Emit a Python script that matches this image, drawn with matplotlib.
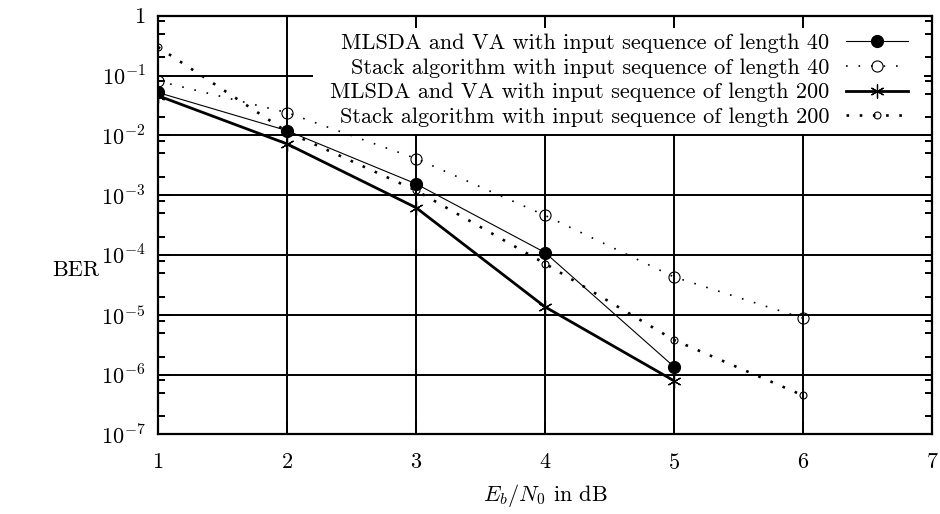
import numpy as np
import matplotlib
matplotlib.use("Agg")
import matplotlib.pyplot as plt
from matplotlib.ticker import FixedLocator, FuncFormatter, LogLocator, NullFormatter
from matplotlib.patches import Rectangle

# data
snr = [1, 2, 3, 4, 5, 6]
mlsda_40 = [5.2e-2, 1.2e-2, 1.55e-3, 1.1e-4, 1.36e-6]
stack_40 = [8.1e-2, 2.4e-2, 4.1e-3, 4.6e-4, 4.3e-5, 8.8e-6]
mlsda_200 = [4.6e-2, 7.2e-3, 6.2e-4, 1.36e-5, 7.9e-7]
stack_200 = [0.30, 1.15e-2, 1.2e-3, 7.2e-5, 3.8e-6, 4.5e-7]

labels = ["MLSDA and VA with input sequence of length 40",
          "Stack algorithm with input sequence of length 40",
          "MLSDA and VA with input sequence of length 200",
          "Stack algorithm with input sequence of length 200"]
xticks = [1, 2, 3, 4, 5, 6, 7]
yticks = [1e0, 1e-1, 1e-2, 1e-3, 1e-4, 1e-5, 1e-6, 1e-7]

plt.rcParams.update({
    'font.family': 'serif',
    'font.serif': ['cmr10', 'DejaVu Serif'],
    'mathtext.fontset': 'cm',
    'axes.formatter.use_mathtext': True,
    'font.size': 16,
})

fig = plt.figure(figsize=(9.4, 5.14), dpi=100)
ax = fig.add_axes([0.168, 0.1547, 0.8235, 0.8148])

ax.set_yscale('log')
ax.set_xlim(1, 7)
ax.set_ylim(1e-7, 1)

ax.set_axisbelow(True)
ax.grid(True, which='major', color='black', linewidth=1.4, linestyle='-')

# white box behind the key (gnuplot opaque key)
ax.add_patch(Rectangle((0.2003, 0.7175), 0.7894, 0.2531, transform=ax.transAxes,
                       facecolor='white', edgecolor='none', zorder=1))

l1, = ax.plot(snr[:5], mlsda_40, color='black', linewidth=0.8, marker='o',
              markersize=8.5, markerfacecolor='black', zorder=3)
l2, = ax.plot(snr, stack_40, color='black', linewidth=1.2, linestyle=(0, (1, 6.5)),
              marker='o', markersize=8, markerfacecolor='none', markeredgewidth=0.8, zorder=3)
l3, = ax.plot(snr[:5], mlsda_200, color='black', linewidth=2.0, marker=(6, 2, 0),
              markersize=10, markeredgewidth=0.9, zorder=3)
l4, = ax.plot(snr, stack_200, color='black', linewidth=1.9, linestyle=(0, (1, 4)),
              marker='o', markersize=5, markerfacecolor='none', markeredgewidth=0.8, zorder=3)

leg = ax.legend([l1, l2, l3, l4], labels, loc='upper right', bbox_to_anchor=(0.969, 0.957),
                frameon=False, markerfirst=False, handlelength=2.8, handletextpad=0.75,
                labelspacing=0.225, borderpad=0, borderaxespad=0, fontsize=16)

ax.xaxis.set_major_locator(FixedLocator(xticks))
ax.yaxis.set_major_locator(FixedLocator(yticks))
ax.yaxis.set_minor_locator(LogLocator(base=10, subs=[2, 5, 8]))
ax.yaxis.set_minor_formatter(NullFormatter())


def fmt(v, pos):
    if v == 1:
        return '1'
    return r'$10^{%d}$' % round(np.log10(v))


ax.yaxis.set_major_formatter(FuncFormatter(fmt))

ax.tick_params(which='major', direction='in', length=9, width=1.4, top=True, right=True,
               labelsize=16, pad=9)
ax.tick_params(which='minor', direction='in', length=5, width=1.4, top=False, right=True)
ax.tick_params(axis='x', pad=13)
for s in ax.spines.values():
    s.set_linewidth(1.6)

ax.set_xlabel(r'$E_b/N_0$ in dB', fontsize=16, labelpad=7)
fig.text(76 / 940, 1 - 270 / 514, 'BER', ha='center', va='center', fontsize=16)

fig.savefig('out.png', dpi=100)
